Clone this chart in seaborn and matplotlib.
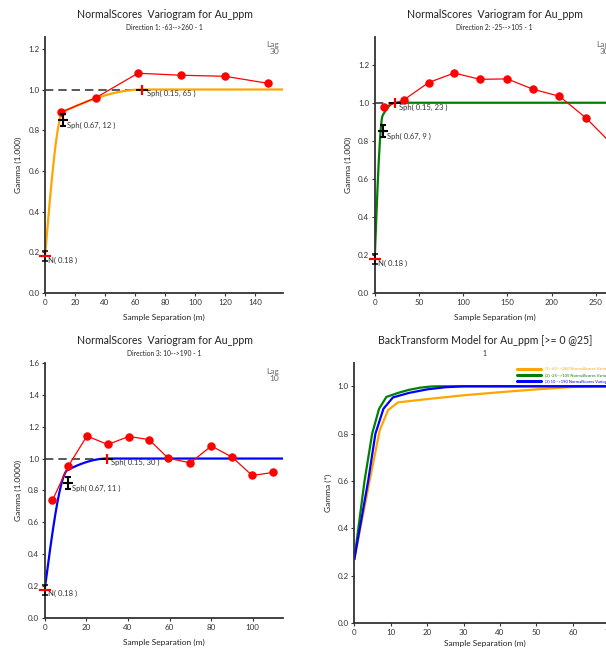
import numpy as np
import pandas as pd
import matplotlib
matplotlib.use("Agg")
import matplotlib.pyplot as plt
from matplotlib.path import Path
import seaborn as sns

# ---------------- data ----------------
nugget = 0.18

d1_lag = [11, 34, 62, 91, 120, 149]
d1_gamma = [0.889, 0.960, 1.080, 1.070, 1.065, 1.030]
d1_c1, d1_a1 = 0.67, 12
d1_c2, d1_a2 = 0.15, 65

d2_lag = [10.5, 33, 61, 90, 119, 150, 179, 209, 239, 268]
d2_gamma = [0.978, 1.015, 1.106, 1.156, 1.123, 1.125, 1.071, 1.034, 0.920, 0.784]
d2_c1, d2_a1 = 0.67, 9
d2_c2, d2_a2 = 0.15, 23

d3_lag = [3.7, 11.4, 20.3, 30.3, 40.4, 50.1, 59.4, 70.0, 80.1, 90.2, 99.7, 109.8]
d3_gamma = [0.738, 0.954, 1.141, 1.088, 1.138, 1.119, 1.002, 0.973, 1.079, 1.008, 0.894, 0.913]
d3_c1, d3_a1 = 0.67, 11
d3_c2, d3_a2 = 0.15, 30

# back-transformed models
bt1_x = [0, 2, 4.2, 7.0, 9.3, 12, 20, 30, 40, 50, 60, 65, 72]
bt1_y = [0.27, 0.427, 0.60, 0.816, 0.90, 0.932, 0.946, 0.962, 0.975, 0.987, 0.997, 1.0, 1.0]
bt2_x = [0, 1.4, 2.8, 4.9, 6.8, 8.8, 12, 15, 18, 21, 23, 72]
bt2_y = [0.27, 0.435, 0.60, 0.80, 0.905, 0.955, 0.972, 0.985, 0.994, 0.999, 1.0, 1.0]
bt3_x = [0, 1.9, 3.8, 5.8, 8.0, 10.6, 15, 20, 25, 30, 72]
bt3_y = [0.27, 0.435, 0.60, 0.80, 0.905, 0.953, 0.972, 0.987, 0.996, 1.0, 1.0]

legend_labels = ["(1) -63-->260 NormalScores Variogram for Au_ppm",
                 "(2) -25-->105 NormalScores Variogram for Au_ppm",
                 "(3) 10-->190 NormalScores Variogram for Au_ppm"]

# ---------------- style ----------------
sns.set_theme(style="white")
plt.rcParams['font.family'] = ['Lato', 'DejaVu Sans']
W, H = 606, 653
fig = plt.figure(figsize=(W / 100, H / 100), dpi=100)
fig.patch.set_facecolor('white')

SPINE = '#333333'
TXT = '#333333'


def px_axes(l, t, r, b):
    return fig.add_axes([l / W, 1 - b / H, (r - l) / W, (b - t) / H])


def ftext(x, y, s, **kw):
    fig.text(x / W, 1 - y / H, s, **kw)


def sph(h, a):
    r = np.minimum(h / a, 1.0)
    return 1.5 * r - 0.5 * r ** 3


def style_axes(ax, xlim, ylim, xt, yt):
    ax.set_xlim(*xlim)
    ax.set_ylim(*ylim)
    ax.set_xticks(xt)
    ax.set_yticks(yt)
    ax.set_xticklabels([f"{v:g}" for v in xt])
    ax.set_yticklabels([f"{v:.1f}" for v in yt])
    for s in ['top', 'right']:
        ax.spines[s].set_visible(False)
    for s in ['left', 'bottom']:
        ax.spines[s].set_color(SPINE)
        ax.spines[s].set_linewidth(1.3)
    ax.tick_params(axis='both', direction='out', length=2.5, width=0.8, color=SPINE,
                   labelsize=5.8, labelcolor=TXT, pad=1.5, left=True, bottom=True)
    ax.set_facecolor('none')


# I-beam cross marker
cross_path = Path([(-1, 0), (1, 0), (0, -1.1), (0, 1.1), (-0.55, 1.1), (0.55, 1.1),
                   (-0.55, -1.1), (0.55, -1.1)],
                  [Path.MOVETO, Path.LINETO, Path.MOVETO, Path.LINETO,
                   Path.MOVETO, Path.LINETO, Path.MOVETO, Path.LINETO])
ibeam_path = Path([(0, -1), (0, 1), (-0.6, 1), (0.6, 1), (-0.6, -1), (0.6, -1)],
                  [Path.MOVETO, Path.LINETO, Path.MOVETO, Path.LINETO,
                   Path.MOVETO, Path.LINETO])


def variogram_panel(ax, lags, gam, c1, a1, c2, a2, color, xmax):
    h = np.linspace(0, xmax, 600)
    model = nugget + c1 * sph(h, a1) + c2 * sph(h, a2)
    sns.lineplot(x=h, y=model, color=color, lw=1.6, ax=ax, sort=False,
                 estimator=None, zorder=2)
    ax.plot([0, a2], [nugget + c1 + c2] * 2, color='#3c3c3c', lw=1.2,
            dashes=(5, 3), zorder=1.5)
    sns.lineplot(x=lags, y=gam, color='red', lw=0.9, marker='o', markersize=5.3,
                 markeredgecolor='red', ax=ax, sort=False, estimator=None, zorder=3,
                 clip_on=False)
    # nugget marker
    ax.plot([0], [nugget], marker=ibeam_path, ms=6.5, mew=1.1, color='black',
            mfc='none', clip_on=False, zorder=5)
    ax.plot([0], [nugget], marker='_', ms=8, mew=1.6, color='red',
            clip_on=False, zorder=6)
    ax.annotate(f"N( {nugget:.2f} )", (0, nugget), xytext=(2.2, -3.1),
                textcoords='offset points', ha='left', va='center',
                fontsize=5.5, color=TXT)
    # first structure
    y1 = nugget + c1
    ax.plot([a1], [y1], marker=cross_path, ms=8, mew=1.5, color='black',
            mfc='none', clip_on=False, zorder=6)
    ax.annotate(f"Sph( {c1:.2f}, {a1:g} )", (a1, y1), xytext=(3.0, -4.0),
                textcoords='offset points', ha='left', va='center',
                fontsize=5.5, color=TXT)
    # second structure
    y2 = nugget + c1 + c2
    ax.plot([a2], [y2], marker='_', ms=8.5, mew=1.3, color='black',
            clip_on=False, zorder=5)
    ax.plot([a2], [y2], marker='|', ms=7.5, mew=1.6, color='red',
            clip_on=False, zorder=6)
    ax.annotate(f"Sph( {c2:.2f}, {a2:g} )", (a2, y2), xytext=(2.9, -3.1),
                textcoords='offset points', ha='left', va='center',
                fontsize=5.5, color=TXT)


# ---------------- panel 1 ----------------
ax1 = px_axes(45, 37, 283, 293)
variogram_panel(ax1, d1_lag, d1_gamma, d1_c1, d1_a1, d1_c2, d1_a2, '#FFA500', 158.7)
style_axes(ax1, (0, 158.7), (0, 1.258), [0, 20, 40, 60, 80, 100, 120, 140],
           [0, 0.2, 0.4, 0.6, 0.8, 1.0, 1.2])
ax1.text(0.983, 0.985, "Lag\n30", transform=ax1.transAxes, ha='right', va='top',
         fontsize=6.0, color='#666666', linespacing=1.05)

# ---------------- panel 2 ----------------
ax2 = px_axes(374.7, 37, 615, 293.3)
variogram_panel(ax2, d2_lag, d2_gamma, d2_c1, d2_a1, d2_c2, d2_a2, '#008000', 271.8)
style_axes(ax2, (0, 271.8), (0, 1.345), [0, 50, 100, 150, 200, 250],
           [0, 0.2, 0.4, 0.6, 0.8, 1.0, 1.2])
ax2.text(0.975, 0.985, "Lag\n30", transform=ax2.transAxes, ha='right', va='top',
         fontsize=6.0, color='#666666', linespacing=1.05)

# ---------------- panel 3 ----------------
ax3 = px_axes(44.7, 362.7, 283.3, 618.3)
variogram_panel(ax3, d3_lag, d3_gamma, d3_c1, d3_a1, d3_c2, d3_a2, '#0000FF', 114.7)
style_axes(ax3, (0, 114.7), (0, 1.6), [0, 20, 40, 60, 80, 100],
           [0, 0.2, 0.4, 0.6, 0.8, 1.0, 1.2, 1.4, 1.6])
ax3.text(0.983, 0.98, "Lag\n10", transform=ax3.transAxes, ha='right', va='top',
         fontsize=6.0, color='#666666', linespacing=1.05)

# ---------------- panel 4 ----------------
ax4 = px_axes(354.3, 363.3, 615, 623.3)
for bx, by, col, lab in [(bt1_x, bt1_y, '#FFA500', legend_labels[0]),
                         (bt2_x, bt2_y, '#008000', legend_labels[1]),
                         (bt3_x, bt3_y, '#0000FF', legend_labels[2])]:
    sns.lineplot(x=bx, y=by, color=col, lw=1.6, ax=ax4, sort=False,
                 estimator=None, label=lab)
style_axes(ax4, (0, 71.6), (0, 1.097), [0, 10, 20, 30, 40, 50, 60, 70],
           [0, 0.2, 0.4, 0.6, 0.8, 1.0])
leg = ax4.legend(loc='upper left', bbox_to_anchor=(0.624, 0.985), frameon=False,
                 fontsize=3.0, handlelength=5.8, handletextpad=1.0, labelspacing=0.55,
                 borderpad=0, borderaxespad=0, labelcolor='linecolor')
for ln in leg.get_lines():
    ln.set_linewidth(2.2)

# ---------------- titles & labels ----------------
title = "NormalScores  Variogram for Au_ppm"
ftext(164.5, 15, title, ha='center', va='center', fontsize=7.6, color='#222222')
ftext(164.5, 27.3, "Direction 1: -63-->260 - 1", ha='center', va='center', fontsize=4.8, color='#222222')
ftext(494.7, 15, title, ha='center', va='center', fontsize=7.6, color='#222222')
ftext(494.7, 27.3, "Direction 2: -25-->105 - 1", ha='center', va='center', fontsize=4.8, color='#222222')
ftext(164.5, 340, title, ha='center', va='center', fontsize=7.6, color='#222222')
ftext(164.5, 353.3, "Direction 3: 10-->190 - 1", ha='center', va='center', fontsize=4.8, color='#222222')
ftext(484.7, 340.7, "BackTransform Model for Au_ppm [>= 0 @25]", ha='center', va='center',
      fontsize=7.6, color='#222222')
ftext(484.7, 353.3, "1", ha='center', va='center', fontsize=4.8, color='#222222')

for ax, ylab, xl_off, yl_off in [(ax1, "Gamma (1.000)", 24, 26.7),
                                 (ax2, "Gamma (1.000)", 24, 26.7),
                                 (ax3, "Gamma (1.0000)", 24, 26.4),
                                 (ax4, "Gamma (*)", 20, 26.3)]:
    bb = ax.get_position()
    wpx, hpx = bb.width * W, bb.height * H
    ax.set_xlabel("Sample Separation (m)", fontsize=6.0, color='#222222', va='center')
    ax.set_ylabel(ylab, fontsize=6.0, color='#222222', va='center')
    ax.xaxis.set_label_coords(0.5, -xl_off / hpx)
    ax.yaxis.set_label_coords(-yl_off / wpx, 0.5)

fig.savefig("out.png", dpi=100)
